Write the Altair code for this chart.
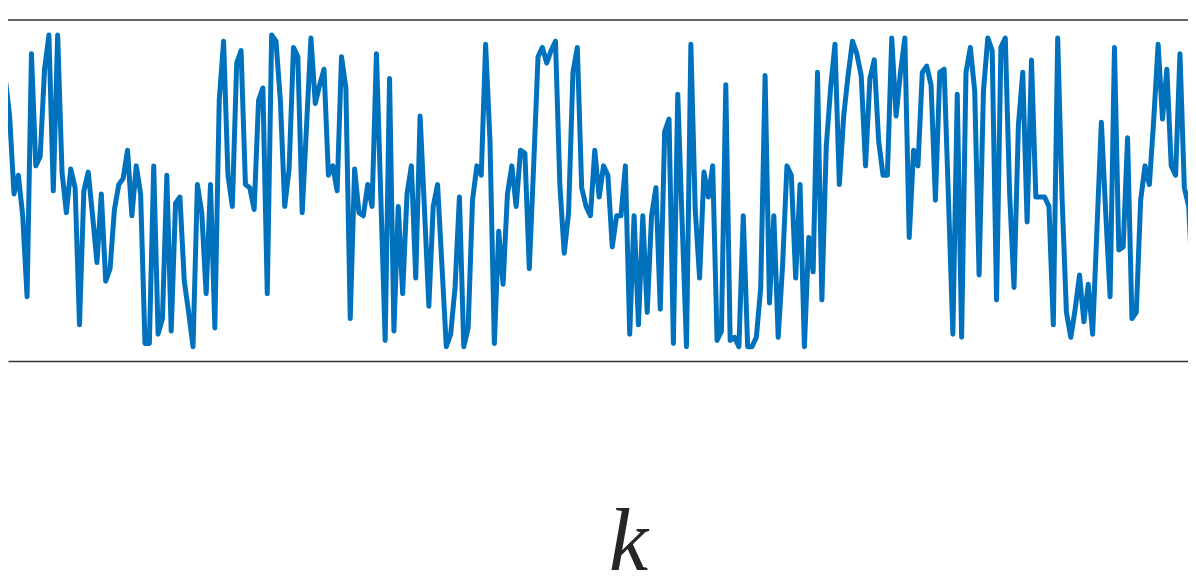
import altair as alt
import pandas as pd

# series values (index k = 0, 1, 2, ...)
values = [
    0.54, 0.86, 0.74, 0.49, 0.55, 0.42, 0.16, 0.94, 0.58, 0.61,
    0.89, 1.00, 0.50, 1.00, 0.56, 0.43, 0.57, 0.51, 0.07, 0.50,
    0.56, 0.42, 0.27, 0.49, 0.21, 0.25, 0.44, 0.52, 0.54, 0.63,
    0.42, 0.58, 0.49, 0.01, 0.01, 0.58, 0.04, 0.09, 0.55, 0.05,
    0.46, 0.48, 0.21, 0.11, 0.00, 0.52, 0.43, 0.17, 0.52, 0.06,
    0.79, 0.98, 0.55, 0.45, 0.91, 0.95, 0.52, 0.51, 0.44, 0.79,
    0.83, 0.17, 1.00, 0.98, 0.79, 0.45, 0.57, 0.96, 0.93, 0.43,
    0.71, 0.99, 0.78, 0.84, 0.89, 0.55, 0.58, 0.50, 0.93, 0.83,
    0.09, 0.57, 0.43, 0.42, 0.52, 0.45, 0.94, 0.48, 0.02, 0.86,
    0.05, 0.45, 0.17, 0.49, 0.58, 0.22, 0.74, 0.44, 0.13, 0.45,
    0.52, 0.26, 0.00, 0.04, 0.19, 0.48, 0.00, 0.06, 0.47, 0.58,
    0.55, 0.97, 0.66, 0.01, 0.37, 0.20, 0.49, 0.58, 0.45, 0.63,
    0.62, 0.25, 0.58, 0.93, 0.96, 0.91, 0.95, 0.98, 0.52, 0.30,
    0.43, 0.88, 0.96, 0.51, 0.45, 0.42, 0.63, 0.48, 0.58, 0.55,
    0.32, 0.42, 0.42, 0.58, 0.04, 0.42, 0.07, 0.42, 0.11, 0.42,
    0.51, 0.12, 0.69, 0.73, 0.01, 0.81, 0.40, 0.00, 0.97, 0.44,
    0.22, 0.56, 0.48, 0.58, 0.02, 0.05, 0.84, 0.02, 0.03, 0.00,
    0.42, 0.00, 0.00, 0.03, 0.19, 0.87, 0.14, 0.42, 0.03, 0.26,
    0.58, 0.55, 0.22, 0.52, 0.00, 0.35, 0.24, 0.88, 0.15, 0.64,
    0.83, 0.97, 0.52, 0.74, 0.87, 0.98, 0.94, 0.87, 0.58, 0.86,
    0.92, 0.66, 0.55, 0.55, 0.99, 0.74, 0.88, 0.99, 0.35, 0.63,
    0.58, 0.88, 0.90, 0.84, 0.47, 0.88, 0.89, 0.47, 0.04, 0.81,
    0.03, 0.88, 0.96, 0.82, 0.23, 0.82, 0.99, 0.95, 0.15, 0.96,
    0.99, 0.49, 0.19, 0.71, 0.88, 0.40, 0.92, 0.48, 0.48, 0.48,
    0.45, 0.07, 0.99, 0.48, 0.11, 0.03, 0.12, 0.23, 0.08, 0.20,
    0.04, 0.38, 0.72, 0.43, 0.16, 0.96, 0.31, 0.32, 0.67, 0.09,
    0.11, 0.47, 0.58, 0.52, 0.73, 0.97, 0.73, 0.89, 0.58, 0.55,
    0.94, 0.51, 0.45, 0.16, 0.96,
]
k = list(range(len(values)))

df = pd.DataFrame({"k": k, "value": values})

W, H = 1180, 341
FRAME = "#333333"

line = alt.Chart(df).mark_line(
    color="#0072BD", strokeWidth=5, strokeJoin="round", strokeCap="round", clip=True
).encode(
    x=alt.X(
        "k:Q",
        scale=alt.Scale(domain=[1.63, 271.84], nice=False, zero=False),
        axis=alt.Axis(
            title="k", ticks=False, labels=False, grid=False,
            domainColor=FRAME, domainWidth=1.5,
            titleFont="Liberation Serif", titleFontStyle="italic",
            titleFontWeight="normal", titleFontSize=88, titleColor="#262626",
            titleX=620, titleY=208, titleBaseline="alphabetic", titleAlign="center",
        ),
    ),
    y=alt.Y("value:Q", scale=alt.Scale(domain=[-0.046, 1.048], nice=False, zero=False), axis=None),
)

top = alt.Chart(pd.DataFrame({"a": [0]})).mark_rule(color=FRAME, strokeWidth=1.5).encode(
    x=alt.value(0), x2=alt.value(W), y=alt.value(0)
)

chart = alt.layer(line, top).properties(
    width=W, height=H,
    padding={"left": 0, "top": 12, "right": 0, "bottom": 217},
    autosize=alt.AutoSizeParams(type="none"),
).configure_view(stroke="transparent")

chart.save("out.html", embed_options={"renderer": "svg", "actions": False})
